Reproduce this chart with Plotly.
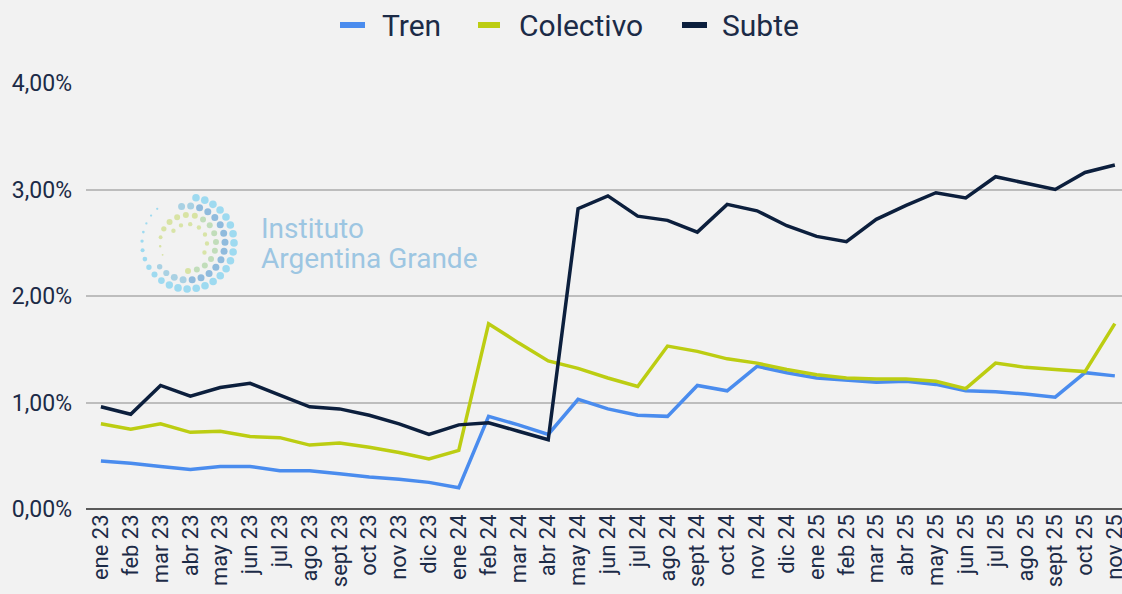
import numpy as np
import plotly.graph_objects as go

meses = ["ene 23","feb 23","mar 23","abr 23","may 23","jun 23","jul 23","ago 23","sept 23","oct 23","nov 23","dic 23",
         "ene 24","feb 24","mar 24","abr 24","may 24","jun 24","jul 24","ago 24","sept 24","oct 24","nov 24","dic 24",
         "ene 25","feb 25","mar 25","abr 25","may 25","jun 25","jul 25","ago 25","sept 25","oct 25","nov 25"]

tren = [0.45,0.43,0.40,0.37,0.40,0.40,0.36,0.36,0.33,0.30,0.28,0.25,
        0.20,0.87,0.79,0.70,1.03,0.94,0.88,0.87,1.16,1.11,1.34,1.28,
        1.23,1.21,1.19,1.20,1.17,1.11,1.10,1.08,1.05,1.28,1.25]
colectivo = [0.80,0.75,0.80,0.72,0.73,0.68,0.67,0.60,0.62,0.58,0.53,0.47,
             0.55,1.74,1.56,1.39,1.32,1.23,1.15,1.53,1.48,1.41,1.37,1.31,
             1.26,1.23,1.22,1.22,1.20,1.13,1.37,1.33,1.31,1.29,1.74]
subte = [0.96,0.89,1.16,1.06,1.14,1.18,1.07,0.96,0.94,0.88,0.80,0.70,
         0.79,0.81,0.73,0.65,2.82,2.94,2.75,2.71,2.60,2.86,2.80,2.66,
         2.56,2.51,2.72,2.85,2.97,2.92,3.12,3.06,3.00,3.16,3.23]

series_names = ["Tren", "Colectivo", "Subte"]
series_values = [tren, colectivo, subte]
series_colors = ["#4a8cee", "#bccd12", "#0c1f3d"]

W, H = 1122, 594
L, R, T, B = 86, 0, 83, 85
text_color = "#1c2b47"

fig = go.Figure()
for name, vals, col in zip(series_names, series_values, series_colors):
    fig.add_trace(go.Scatter(x=meses, y=vals, name=name, mode="lines",
                             line=dict(color=col, width=3.5), showlegend=False))

def px2paper(x, y):
    return (x - L) / (W - L - R), (H - B - y) / (H - T - B)

shapes = []
annotations = []

# --- custom legend (short thick swatches) ---
legend_sw = [(340, 365), (478, 500), (682, 707)]
legend_tx = [380, 517, 720]
for name, col, (sx0, sx1), tx in zip(series_names, series_colors, legend_sw, legend_tx):
    x0, y0 = px2paper(sx0, 28)
    x1, y1 = px2paper(sx1, 22)
    shapes.append(dict(type="rect", xref="paper", yref="paper", x0=x0, y0=y0, x1=x1, y1=y1,
                       fillcolor=col, line=dict(width=0)))
    ax_, ay_ = px2paper(tx, 25)
    annotations.append(dict(xref="paper", yref="paper", x=ax_, y=ay_, xanchor="left", yanchor="middle",
                            text=name, showarrow=False, font=dict(family="Roboto", size=30, color=text_color)))

# --- watermark logo (decorative dots) ---
cx, cy = 188, 243
rings = [
    # radius, start deg, end deg, dot radius, colour right, colour left
    (46, 80, -228, 3.8, "#8fd6f0", "#8fd6f0"),
    (37, 100, -140, 3.5, "#7fb2d9", "#9ccbe0"),
    (28, 205, -90, 3.0, "#b9d9b0", "#d3e196"),
    (19, 140, -30, 2.2, "#d4e29a", "#d4e29a"),
]
for rad, a0, a1, s0, c_r, c_l in rings:
    n = int(abs(a0 - a1) / 360 * 2 * np.pi * rad / 9)
    for k in range(n + 1):
        a = a0 + (a1 - a0) * k / n
        ang = np.deg2rad(a)
        x = cx + rad * np.cos(ang)
        y = cy - rad * np.sin(ang)
        s = s0
        if a < -110:
            s = s0 * max(0.3, 1 - (-110 - a) / 130)
        if a > 140:
            s = s0 * max(0.3, 1 - (a - 140) / 80)
        c = c_r if -90 < a < 75 else c_l
        x0, y0 = px2paper(x - s, y + s)
        x1, y1 = px2paper(x + s, y - s)
        shapes.append(dict(type="circle", xref="paper", yref="paper", x0=x0, y0=y0, x1=x1, y1=y1,
                           fillcolor=c, line=dict(width=0), opacity=0.85, layer="below"))

for txt, yy in [("Instituto", 229), ("Argentina Grande", 258)]:
    ax_, ay_ = px2paper(259, yy)
    annotations.append(dict(xref="paper", yref="paper", x=ax_, y=ay_, xanchor="left", yanchor="middle",
                            text=txt, showarrow=False, font=dict(family="Roboto", size=28, color="#9dc6e2")))

fig.update_layout(
    width=W, height=H,
    margin=dict(l=L, r=R, t=T, b=B, autoexpand=False),
    paper_bgcolor="#f2f2f2", plot_bgcolor="#f2f2f2",
    separators=",.",
    font=dict(family="Roboto", color=text_color),
    shapes=shapes,
    annotations=annotations,
    showlegend=False,
    xaxis=dict(type="category", range=[-0.5, 34.24], tickangle=-90, showgrid=False,
               tickfont=dict(size=22, color=text_color), showline=False, ticks="",
               automargin=False, zeroline=False),
    yaxis=dict(range=[0, 4], dtick=1, tickformat=".2f", ticksuffix="%",
               showgrid=True, gridcolor="#bdbdbd", gridwidth=2,
               zeroline=True, zerolinecolor="#5a5a5a", zerolinewidth=2,
               tickfont=dict(size=23, color=text_color), ticklabelstandoff=13,
               automargin=False, fixedrange=True),
)

fig.write_html("out.html", config={"displayModeBar": False},
               post_script="document.body.style.margin='0';document.body.style.overflow='hidden';")
